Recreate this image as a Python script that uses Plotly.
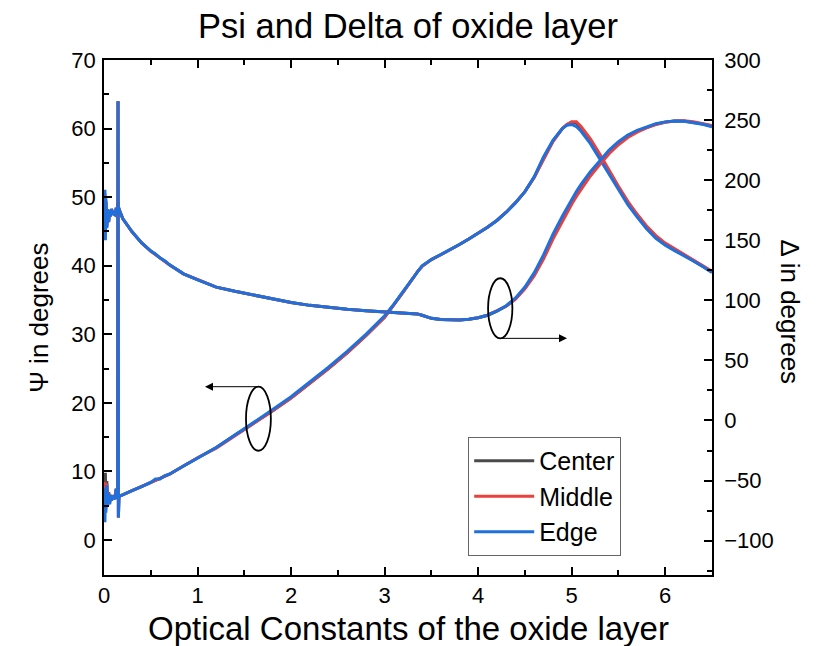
import plotly.graph_objects as go

# Photon-energy-like abscissa shared by every trace
X = [0.0, 0.01, 0.015, 0.02, 0.03, 0.04, 0.05, 0.06, 0.07, 0.08, 0.10, 0.12, 0.13, 0.14,
     0.146, 0.15, 0.154, 0.16, 0.17,
     0.2, 0.3, 0.4, 0.5, 0.55, 0.6, 0.65, 0.7, 0.85, 1.0, 1.2, 1.4, 1.6, 1.8, 2.0, 2.2,
     2.4, 2.6, 2.8, 3.0, 3.1, 3.2, 3.3, 3.35, 3.4, 3.5, 3.6, 3.7, 3.8, 3.9, 4.0, 4.1,
     4.2, 4.3, 4.4, 4.5, 4.6, 4.7, 4.8, 4.9, 4.95, 5.0, 5.05, 5.1, 5.2, 5.3, 5.4, 5.5,
     5.6, 5.7, 5.8, 5.9, 6.0, 6.1, 6.2, 6.3, 6.4, 6.5]

# Psi (left axis), degrees
PSI_CENTER = [9.5, 7.0, 9.8, 5.0, 8.6, 5.6, 7.0, 5.4, 6.6, 5.9, 6.3, 6.0, 7.4, 6.4,
              6.3, 64.0, 3.3, 6.5, 6.4,
              6.6, 7.2, 7.8, 8.4, 8.8, 9.0, 9.3, 9.6, 10.8, 12.0, 13.5, 15.3, 17.0, 18.8, 20.7, 22.8,
              25.0, 27.3, 29.8, 32.5, 34.3, 36.2, 38.1, 39.1, 39.9, 40.9, 41.6, 42.3, 43.1, 43.9, 44.7, 45.6,
              46.6, 47.8, 49.2, 50.8, 52.9, 55.7, 58.2, 60.0, 60.6, 60.9, 60.8, 60.1, 58.3, 56.1, 53.7, 51.4,
              49.2, 47.4, 45.7, 44.3, 43.2, 42.4, 41.6, 40.8, 40.0, 39.1]
PSI_MIDDLE = [8.5, 6.0, 8.4, 4.5, 8.2, 5.3, 6.9, 5.3, 6.5, 5.8, 6.3, 6.0, 7.5, 6.4,
              6.3, 64.0, 3.3, 6.5, 6.4,
              6.6, 7.2, 7.8, 8.4, 8.8, 9.0, 9.3, 9.6, 10.8, 12.0, 13.4, 15.2, 16.9, 18.8, 20.7, 22.8,
              25.0, 27.3, 29.8, 32.5, 34.3, 36.2, 38.1, 39.1, 39.9, 40.9, 41.6, 42.3, 43.1, 43.9, 44.7, 45.6,
              46.6, 47.8, 49.2, 50.8, 52.9, 55.6, 58.1, 60.0, 60.6, 61.0, 61.0, 60.3, 58.5, 56.3, 53.9, 51.6,
              49.4, 47.5, 45.8, 44.4, 43.3, 42.5, 41.7, 40.9, 40.1, 39.2]
PSI_EDGE = [6.0, 2.6, 7.5, 4.0, 8.0, 5.0, 6.8, 5.2, 6.5, 5.8, 6.3, 6.0, 7.5, 6.4,
            6.3, 64.0, 3.3, 6.5, 6.4,
            6.6, 7.2, 7.8, 8.4, 8.9, 8.9, 9.4, 9.6, 10.8, 12.0, 13.5, 15.3, 17.1, 19.0, 20.9, 23.0,
            25.2, 27.5, 30.0, 32.7, 34.4, 36.3, 38.2, 39.2, 40.0, 40.9, 41.6, 42.3, 43.1, 43.9, 44.7, 45.6,
            46.6, 47.8, 49.2, 50.8, 53.0, 55.9, 58.3, 60.0, 60.5, 60.6, 60.3, 59.6, 57.8, 55.6, 53.2, 51.0,
            48.9, 47.1, 45.4, 44.0, 43.0, 42.2, 41.5, 40.7, 39.9, 39.0]

# Delta (right axis), degrees
DELTA_CENTER = [168, 186, 158, 182, 162, 175, 166, 174, 170, 175, 172, 171, 176, 173,
                175, 181, 178, 176, 174,
                168, 157, 148, 141, 138.2, 135.6, 132.6, 129.5, 122, 117, 111, 107.5, 104.2, 101.2, 98.2, 95.8,
                94.0, 92.5, 91.3, 90.5, 90.1, 89.8, 89.3, 88.7, 87.6, 85.0, 84.0, 83.6, 83.7, 84.2, 85.5, 87.6,
                91.0, 95.2, 101.5, 110.2, 121.5, 135.5, 152.5, 167.5, 174.5, 181.5, 188, 194, 205, 214.5, 223.5,
                230.5, 236.5, 240.8, 244, 246.6, 248.3, 249.3, 249.2, 248.3, 246.8, 245]
DELTA_MIDDLE = [166, 189, 154, 183, 161, 176, 165, 175, 170, 176, 172, 171, 177, 173,
                175, 181, 178, 176, 174,
                168, 157, 148, 141, 138.2, 135.6, 132.6, 129.5, 122, 117, 111, 107.5, 104.2, 101.2, 98.2, 95.8,
                94.0, 92.5, 91.3, 90.5, 90.1, 89.8, 89.3, 88.7, 87.6, 85.0, 84.0, 83.6, 83.7, 84.2, 85.5, 87.6,
                91.0, 95.0, 101, 109.5, 120.5, 134.5, 151, 166, 173, 180, 186.5, 192.5, 203.5, 213, 222,
                229.5, 235.5, 240, 243.5, 246.3, 248.2, 249.3, 249.4, 248.6, 247.2, 245.5]
DELTA_EDGE = [170, 192, 150, 185, 160, 176, 165, 175, 170, 176, 172, 171, 177, 173,
              175, 181, 178, 176, 174,
              168, 157, 148, 141, 138.6, 135.2, 133.0, 129.5, 122, 117, 111, 107.5, 104.2, 101.2, 98.2, 95.8,
              94.0, 92.5, 91.3, 90.5, 90.1, 89.8, 89.3, 88.7, 87.6, 85.0, 84.0, 83.6, 83.7, 84.2, 85.5, 87.6,
              91.0, 95.5, 102, 111, 123, 138, 155, 170, 177, 184, 190.5, 196.5, 207, 216, 225,
              232, 237.5, 241.5, 244.5, 247, 248.5, 249.2, 249, 248, 246.5, 244.5]

SERIES = ["Center", "Middle", "Edge"]
COLORS = ["#4a4a4a", "#e8413e", "#1f6fdc"]
PSI = [PSI_CENTER, PSI_MIDDLE, PSI_EDGE]
DELTA = [DELTA_CENTER, DELTA_MIDDLE, DELTA_EDGE]

FONT = "Arial, Liberation Sans, sans-serif"

fig = go.Figure()
for name, color, psi in zip(SERIES, COLORS, PSI):
    fig.add_trace(go.Scatter(x=X, y=psi, name=name, legendgroup=name, mode="lines",
                             line=dict(color=color, width=3), yaxis="y"))
for name, color, delta in zip(SERIES, COLORS, DELTA):
    fig.add_trace(go.Scatter(x=X, y=delta, name=name, legendgroup=name, mode="lines",
                             line=dict(color=color, width=3), yaxis="y2", showlegend=False))

axis_common = dict(showline=True, linecolor="black", linewidth=1.5, ticks="inside",
                   ticklen=8, tickwidth=1.5, tickcolor="black", showgrid=False,
                   zeroline=False, tickfont=dict(family=FONT, size=22, color="black"))

fig.update_layout(
    width=820, height=646,
    margin=dict(l=104, r=108, t=60, b=71),
    paper_bgcolor="white", plot_bgcolor="white",
    font=dict(family=FONT, color="black"),
    title=dict(text="Psi and Delta of oxide layer", x=0.5, xref="paper", y=0.96,
               yanchor="middle", font=dict(size=34.5, family=FONT, color="black")),
    xaxis=dict(range=[0, 6.5], dtick=1, mirror="ticks",
               minor=dict(dtick=0.5, ticks="inside", ticklen=5, tickwidth=1.5, tickcolor="black"),
               **axis_common),
    yaxis=dict(range=[-5.1, 70], dtick=10, ticklabelstandoff=2,
               minor=dict(dtick=5, ticks="inside", ticklen=5, tickwidth=1.5, tickcolor="black"),
               **axis_common),
    yaxis2=dict(range=[-128.6, 300], dtick=50, overlaying="y", side="right",
                ticklabelstandoff=6,
                minor=dict(dtick=25, ticks="inside", ticklen=5, tickwidth=1.5, tickcolor="black"),
                **axis_common),
    legend=dict(x=0.599, y=0.268, xanchor="left", yanchor="top",
                bgcolor="white", bordercolor="#666666", borderwidth=1,
                font=dict(family=FONT, size=25, color="black"), itemwidth=60,
                tracegroupgap=0),
    showlegend=True,
)

# Axis titles
fig.add_annotation(text="Optical Constants of the oxide layer", xref="paper", yref="paper",
                   x=0.5, y=-0.103, showarrow=False, yanchor="middle",
                   font=dict(size=33, family=FONT, color="black"))
fig.add_annotation(text="\u03a8 in degrees", xref="paper", yref="paper", x=-0.108, y=0.5,
                   xanchor="center", yanchor="middle",
                   showarrow=False, textangle=-90, font=dict(size=26, family=FONT, color="black"))
fig.add_annotation(text="\u0394 in degrees", xref="paper", yref="paper", x=1.128, y=0.51,
                   xanchor="center", yanchor="middle",
                   showarrow=False, textangle=90, font=dict(size=26, family=FONT, color="black"))

# Ellipses marking which curve belongs to which axis, with pointer arrows
ELLIPSES = [(1.651, 17.69, 0.133, 4.67), (4.236, 33.79, 0.130, 4.38)]
for cx, cy, rx, ry in ELLIPSES:
    fig.add_shape(type="circle", xref="x", yref="y", x0=cx - rx, x1=cx + rx,
                  y0=cy - ry, y1=cy + ry, line=dict(color="black", width=1.8))

ARROWS = [((1.651, 22.36), (1.08, 22.36)), ((4.236, 29.41), (4.95, 29.41))]
for (tx, ty), (hx, hy) in ARROWS:
    fig.add_annotation(x=hx, y=hy, ax=tx, ay=ty, xref="x", yref="y", axref="x", ayref="y",
                       showarrow=True, arrowhead=2, arrowsize=1.6, arrowwidth=1,
                       arrowcolor="black", text="")

fig.write_html("out.html")
